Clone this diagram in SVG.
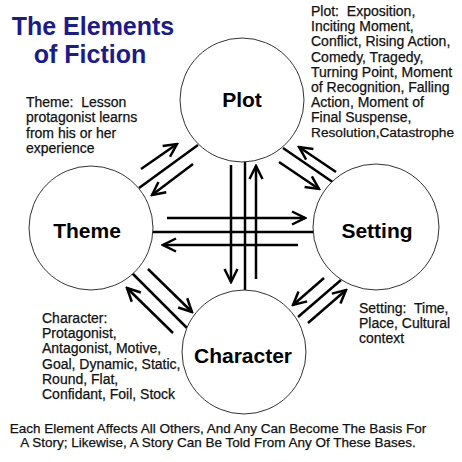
<svg xmlns="http://www.w3.org/2000/svg" width="462" height="462" viewBox="0 0 462 462">
<style>
.c{fill:#fff;stroke:#333;stroke-width:1}
.lbl{font-family:"Liberation Sans",Arial,sans-serif;font-weight:bold;font-size:21px;fill:#000;text-anchor:middle}
.t{font-family:"Liberation Sans",Arial,sans-serif;font-size:14px;fill:#111;white-space:pre;stroke:#111;stroke-width:0.25}
.title{font-family:"Liberation Sans",Arial,sans-serif;font-weight:bold;font-size:25px;fill:#1b1b8c;text-anchor:middle}
.ln{stroke:#000;stroke-width:2.5;fill:none}
.ar{marker-end:url(#ah)}
</style>
<defs>
<marker id="ah" viewBox="0 0 16 16" refX="14" refY="8" markerWidth="16" markerHeight="16" markerUnits="userSpaceOnUse" orient="auto">
<path d="M1,1.5 L14,8 L1,14.5" fill="none" stroke="#000" stroke-width="2.5"/>
</marker>
</defs>
<rect width="462" height="462" fill="#fff"/>
<g id="title">
<text class="title" x="93" y="35">The Elements</text>
<text class="title" x="90" y="63">of Fiction</text>
</g>
<g id="connectors">
<line class="ln ar" x1="231" y1="165" x2="231" y2="282"/>
<line class="ln" x1="245" y1="162" x2="245" y2="290"/>
<line class="ln ar" x1="256" y1="279" x2="256" y2="166"/>
<line class="ln ar" x1="167" y1="218" x2="305" y2="218"/>
<line class="ln" x1="153" y1="232" x2="314" y2="232"/>
<line class="ln ar" x1="298" y1="245" x2="163" y2="245"/>
<line class="ln ar" x1="141" y1="169" x2="177" y2="144"/>
<line class="ln" x1="139" y1="188" x2="198" y2="145"/>
<line class="ln ar" x1="193" y1="164" x2="152" y2="195"/>
<line class="ln ar" x1="336" y1="172" x2="299" y2="147"/>
<line class="ln" x1="283" y1="148" x2="334" y2="183"/>
<line class="ln ar" x1="279" y1="162" x2="319" y2="189"/>
<line class="ln ar" x1="324" y1="278" x2="293" y2="305"/>
<line class="ln" x1="341" y1="280" x2="298" y2="317"/>
<line class="ln ar" x1="308" y1="323" x2="346" y2="290"/>
<line class="ln ar" x1="173" y1="333" x2="127" y2="288"/>
<line class="ln" x1="132" y1="273" x2="187" y2="328"/>
<line class="ln ar" x1="148" y1="269" x2="192" y2="312"/>
</g>
<g id="plot">
<circle class="c" cx="242" cy="100" r="62"/>
<text class="lbl" x="242" y="107">Plot</text>
</g>
<g id="theme">
<circle class="c" cx="91" cy="228" r="62"/>
<text class="lbl" x="87" y="238">Theme</text>
</g>
<g id="setting">
<circle class="c" cx="376" cy="227" r="63"/>
<text class="lbl" x="377" y="238">Setting</text>
</g>
<g id="character">
<circle class="c" cx="244" cy="352" r="62"/>
<text class="lbl" x="243" y="363">Character</text>
</g>
<g id="plot-note">
<text class="t" x="311" y="16">Plot:  Exposition,</text>
<text class="t" x="311" y="31">Inciting Moment,</text>
<text class="t" x="311" y="46">Conflict, Rising Action,</text>
<text class="t" x="311" y="62">Comedy, Tragedy,</text>
<text class="t" x="311" y="77">Turning Point, Moment</text>
<text class="t" x="311" y="92">of Recognition, Falling</text>
<text class="t" x="311" y="107">Action, Moment of</text>
<text class="t" x="311" y="122">Final Suspense,</text>
<text class="t" x="311" y="137" style="font-size:13.7px">Resolution,Catastrophe</text>
</g>
<g id="theme-note">
<text class="t" x="26" y="107">Theme:  Lesson</text>
<text class="t" x="26" y="122">protagonist learns</text>
<text class="t" x="26" y="138">from his or her</text>
<text class="t" x="26" y="153">experience</text>
</g>
<g id="character-note">
<text class="t" x="42" y="323">Character:</text>
<text class="t" x="42" y="338">Protagonist,</text>
<text class="t" x="42" y="353">Antagonist, Motive,</text>
<text class="t" x="42" y="369">Goal, Dynamic, Static,</text>
<text class="t" x="42" y="384">Round, Flat,</text>
<text class="t" x="42" y="399">Confidant, Foil, Stock</text>
</g>
<g id="setting-note">
<text class="t" x="359" y="313">Setting:  Time,</text>
<text class="t" x="359" y="328">Place, Cultural</text>
<text class="t" x="359" y="343">context</text>
</g>
<g id="footer">
<text class="t" x="218" y="433" style="font-size:13.5px;text-anchor:middle">Each Element Affects All Others, And Any Can Become The Basis For</text>
<text class="t" x="218" y="447" style="font-size:13.5px;text-anchor:middle">A Story; Likewise, A Story Can Be Told From Any Of These Bases.</text>
</g>
</svg>
